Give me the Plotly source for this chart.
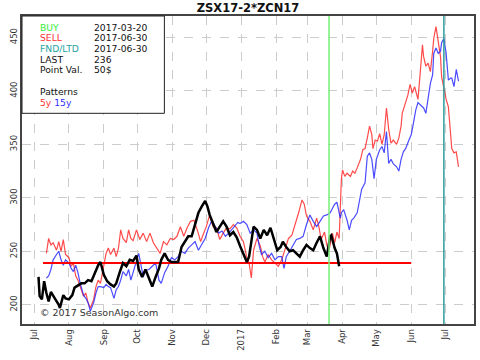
import pandas as pd
import plotly.graph_objects as go

BASE = pd.Timestamp("2016-07-01")

# ---- data (day offsets from 2016-07-01, values) ----
black_days = [4,5,7,9,11,13,15,17,19,22,23,26,28,31,34,36,39,42,45,48,51,54,57,59,62,65,68,71,73,76,79,82,85,88,91,93,96,99,102,105,108,111,113,116,119,122,125,128,131,134,137,140,143,146,149,152,154,156,159,162,165,168,171,174,177,180,183,186,189,191,193,195,198,201,204,207,210,213,216,219,221,224,227,230,233,236,239,242,245,248,251,254,257,260,263,264,267,269,271]
black_vals = [226,208,205,222,211,203,212,209,205,200,197,209,206,205,209,216,218,220,220,223,222,230,237,240,228,222,219,217,220,230,239,236,242,241,246,233,226,233,225,217,226,234,242,248,242,240,240,240,254,259,264,264,276,286,292,297,292,284,276,268,273,278,273,265,268,263,255,247,240,245,258,273,270,262,270,265,272,262,251,254,259,254,250,251,248,245,251,256,253,251,258,264,253,245,264,265,253,248,236]

red_days = [11,13,15,17,20,22,24,26,28,31,33,35,37,39,41,44,46,48,50,53,55,57,59,62,64,66,68,71,73,75,77,79,82,84,86,88,91,94,97,100,103,106,109,112,115,118,121,124,127,130,133,136,139,142,145,148,150,153,156,159,162,165,168,171,174,177,180,183,186,189,191,193,195,198,201,203,205,208,211,214,217,220,223,226,229,232,235,238,240,242,245,248,251,253,255,258,260,262,265,267,269,271,272,273,274,276,278,281,283,285,287,290,292,294,296,298,300,301,303,305,307,309,311,313,315,317,319,322,324,326,327,330,332,334,336,338,339,341,343,345,346,348,350,352,354,355,357,359,361,362,364,366,368,370,371,373,375,377]
red_vals = [248,262,256,258,251,259,250,261,247,244,236,239,227,223,217,208,211,202,197,205,217,223,220,236,248,253,247,253,245,253,270,262,258,270,262,260,270,261,267,259,267,258,253,248,259,256,262,261,264,273,264,272,278,279,270,259,265,273,284,273,272,261,267,272,271,275,272,264,259,244,239,225,251,262,255,245,240,247,242,239,236,242,251,262,265,275,286,298,294,283,278,270,281,273,261,268,256,251,267,258,268,262,290,318,326,320,323,320,325,323,328,336,345,346,356,367,359,346,354,353,360,350,359,384,364,351,354,350,356,367,379,389,396,406,398,404,399,392,417,443,432,423,426,418,437,449,460,448,432,413,401,392,385,360,346,342,343,329]

blue_days = [11,13,15,17,20,22,24,26,28,31,33,35,37,39,41,44,46,48,50,53,55,57,59,62,64,66,68,71,73,75,77,79,82,84,86,88,91,93,95,97,99,102,105,108,111,113,116,119,122,125,128,131,134,137,140,143,146,149,152,155,158,161,164,167,170,173,176,179,181,183,186,189,192,195,198,200,202,205,208,211,214,217,220,222,224,227,230,233,236,239,242,245,248,251,254,257,260,263,265,267,269,272,273,275,278,280,282,284,287,289,291,294,296,298,300,302,304,307,309,311,313,315,317,319,322,324,326,328,330,333,335,337,339,341,343,346,348,350,352,354,355,357,359,361,362,364,366,368,370,371,373,375,377]
blue_vals = [225,227,233,242,247,250,242,237,242,239,234,231,237,230,220,209,206,202,194,202,211,217,217,216,219,217,216,206,214,217,223,231,227,233,223,231,241,248,238,226,232,233,236,239,223,220,230,236,244,242,245,250,248,253,256,259,251,256,262,272,279,273,267,269,264,267,271,275,277,276,278,275,267,270,267,255,247,250,244,248,242,245,245,234,245,250,255,261,262,264,275,284,278,273,278,283,284,286,290,294,296,281,286,289,279,270,279,281,286,297,308,314,339,342,336,318,336,345,348,342,362,332,336,332,329,325,336,343,346,354,359,370,382,389,387,384,379,395,407,415,435,440,435,437,445,449,435,410,412,412,404,420,409]

level_days = [8, 335]
level_vals = [239, 239]

buy_date = "2017-03-20"
sell_date = "2017-06-30"

x_tick_dates = ["2016-07-01","2016-08-01","2016-09-01","2016-10-01","2016-11-01","2016-12-01",
                "2017-01-01","2017-02-01","2017-03-01","2017-04-01","2017-05-01","2017-06-01","2017-07-01"]
x_tick_text = ["Jul","Aug","Sep","Oct","Nov","Dec","2017","Feb","Mar","Apr","May","Jun","Jul"]
y_ticks = [200, 250, 300, 350, 400, 450]

info_labels = ["BUY", "SELL", "FND/LTD", "LAST", "Point Val."]
info_values = ["2017-03-20", "2017-06-30", "2017-06-30", "236", "50$"]
info_colors = ["#33ee33", "#ff3333", "#2aa3a3", "#111111", "#111111"]


def to_dates(days):
    return [BASE + pd.Timedelta(days=d) for d in days]


FONT = "DejaVu Sans"
fig = go.Figure()

fig.add_trace(go.Scatter(x=to_dates(red_days), y=red_vals, mode="lines",
                         line=dict(color="rgba(255,30,30,0.8)", width=1.2), hoverinfo="skip"))
fig.add_trace(go.Scatter(x=to_dates(blue_days), y=blue_vals, mode="lines",
                         line=dict(color="rgba(30,30,255,0.8)", width=1.2), hoverinfo="skip"))
fig.add_trace(go.Scatter(x=to_dates(level_days), y=level_vals, mode="lines",
                         line=dict(color="#ff0000", width=2), hoverinfo="skip"))
fig.add_trace(go.Scatter(x=to_dates(black_days), y=black_vals, mode="lines",
                         line=dict(color="#000000", width=2.5), hoverinfo="skip"))

fig.add_vline(x=pd.Timestamp(buy_date).timestamp() * 1000, line=dict(color="#77ee77", width=1.5))
fig.add_vline(x=pd.Timestamp(sell_date).timestamp() * 1000, line=dict(color="#2a9d9d", width=1.5))

# info box
fig.add_shape(type="rect", xref="paper", yref="paper", x0=0, x1=0.315, y0=0.684, y1=1,
              line=dict(color="#222222", width=1), fillcolor="white", layer="above")

rows_y = [0.964, 0.930, 0.895, 0.860, 0.825]
for lab, val, col, yy in zip(info_labels, info_values, info_colors, rows_y):
    fig.add_annotation(x=0.0354, y=yy, xref="paper", yref="paper", text=lab, showarrow=False,
                       xanchor="left", yanchor="middle", font=dict(family=FONT, size=9.2, color=col))
    fig.add_annotation(x=0.1549, y=yy, xref="paper", yref="paper", text=val, showarrow=False,
                       xanchor="left", yanchor="middle", font=dict(family=FONT, size=9.2, color="#111111"))
fig.add_annotation(x=0.0354, y=0.754, xref="paper", yref="paper", text="Patterns", showarrow=False,
                   xanchor="left", yanchor="middle", font=dict(family=FONT, size=9.2, color="#111111"))
fig.add_annotation(x=0.0354, y=0.720, xref="paper", yref="paper",
                   text="<span style='color:#ff3333'>5y</span> <span style='color:#3333ff'>15y</span>",
                   showarrow=False, xanchor="left", yanchor="middle", font=dict(family=FONT, size=9.2))

fig.add_annotation(x=0.0354, y=0.036, xref="paper", yref="paper", text="© 2017 SeasonAlgo.com",
                   showarrow=False, xanchor="left", yanchor="middle",
                   font=dict(family=FONT, size=9.5, color="#333333"))

fig.update_layout(
    width=480, height=360,
    margin=dict(l=22, r=6, t=16, b=36),
    paper_bgcolor="white", plot_bgcolor="white",
    showlegend=False,
    title=dict(text="<b>ZSX17-2*ZCN17</b>", x=0.5, xref="paper", y=0.978, yref="container",
               xanchor="center", yanchor="middle", font=dict(family=FONT, size=11.5, color="#111111")),
    font=dict(family=FONT, size=8.5, color="#333333"),
)
fig.update_xaxes(
    range=[pd.Timestamp("2016-06-20 08:00"), pd.Timestamp("2017-07-26 18:00")],
    tickvals=[pd.Timestamp(d) for d in x_tick_dates], ticktext=x_tick_text, tickangle=-90,
    showgrid=True, gridcolor="#cccccc", griddash="dash", gridwidth=1, automargin=False,
    showline=True, linecolor="#444444", linewidth=1.5, mirror=True, ticks="", zeroline=False,
    tickfont=dict(family=FONT, size=8.5, color="#333333"),
)
fig.update_yaxes(
    range=[182, 470], tickvals=y_ticks, tickangle=-90, automargin=False,
    showgrid=True, gridcolor="#cccccc", griddash="dash", gridwidth=1,
    showline=True, linecolor="#444444", linewidth=1.5, mirror=True, ticks="", zeroline=False,
    tickfont=dict(family=FONT, size=8.5, color="#333333"),
)

fig.write_html("out.html", config={"displayModeBar": False},
               post_script="document.body.style.margin='0px';")
